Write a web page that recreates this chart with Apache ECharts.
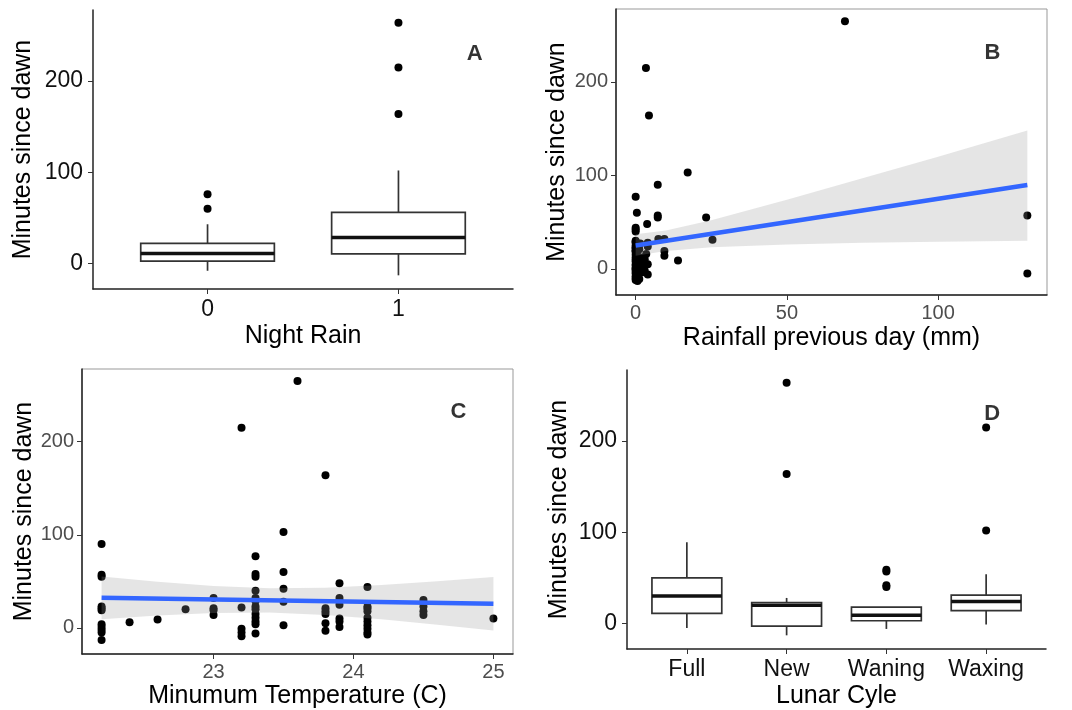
<!DOCTYPE html>
<html>
<head>
<meta charset="utf-8">
<script src="https://cdn.jsdelivr.net/npm/echarts@6.0.0/dist/echarts.min.js"></script>
<style>
  html, body { margin: 0; padding: 0; background: #fff; }
  #chart { width: 1072px; height: 710px; }
</style>
</head>
<body>
<div id="chart"></div>
<script>
// shared y ticks
const yTicks = [0, 100, 200];

// A: night rain, boxes are [low, q1, median, q3, high]
const nightRainCats = ['0', '1'];
const nightRainBoxes = [[-8, 2.5, 11, 22, 43], [-13, 10.5, 28.5, 56, 102]];
const nightRainOutliers = [[1, 76], [1, 60], [2, 264], [2, 215], [2, 164]];

// B: rainfall previous day (mm) vs minutes
const rainfallMm = [69.2, 3.4, 4.4, 17.2, 7.3, 0, 0.4, 23.3, 7.3, 7.3, 3.8, 0, 0, 0, 129.5, 129.5, 25.4, 14, 9.5, 9.5, 7.5, 9.5, 4, 4, 3.5,
  0, 0, 0, 0, 0, 0, 0, 0, 0, 0, 0, 0, 0, 0, 0, 0, 0, 0, 0, 0, 0, 0, 0,
  0.6, 0.6, 0.6, 0.6, 0.6, 0.6, 1.2, 1.2, 1.2, 1.5, 1.5, 2, 2, 2, 2, 3, 3, 3, 4, 4];
const rainMinutes = [265, 215, 164, 103, 90, 77, 60, 55, 57, 55, 48, 44, 42, 40, 57, -5, 31, 9, 19, 14, 32, 32, 28, 24, 16,
  30, 29, 28, 25, 23, 22, 20, 19, 18, 15, 12, 10, 8, 5, 3, 1, 0, -1, -3, -5, -8, -10, -12,
  26, 14, 6, -2, -6, -13, -11, 4, 21, 7, 27, 8, 2, -4, 12, 6, -2, 10, 5, -6];
const rainFitX = [0, 129.5];
const rainFitY = [25, 89.6];
const rainBandX = [0, 10, 25, 50, 75, 100, 129.5];
const rainBandLow = [14, 19, 23, 26, 28, 29, 30];
const rainBandHigh = [37, 41, 52, 74, 97, 120, 148];

// C: minimum temperature vs minutes
const tempValues = [22.2, 22.4, 22.6, 22.8, 23.0, 23.2, 23.3, 23.5, 23.6, 23.8, 23.9, 24.1, 24.5, 25.0];
const minutesByTemp = [
  [90, 57, 55, 23, 21, 19, 4, 1, -2, -5, -13],
  [6],
  [9],
  [20],
  [32, 21, 19, 14],
  [215, 22, -1, -5, -9],
  [77, 58, 55, 40, 32, 29, 23, 20, 15, 11, 7, 4, -6],
  [103, 60, 42, 28, 3],
  [265],
  [164, 21, 18, 15, 5, -3],
  [48, 32, 29, 25, 10, 7, 1],
  [44, 23, 21, 18, 11, 7, 3, -1, -5, -7],
  [30, 27, 23, 18, 14],
  [10]
];
const tempFitX = [22.2, 25.0];
const tempFitY = [32.3, 25.9];
const tempBandX = [22.2, 22.6, 23.0, 23.4, 23.8, 24.2, 24.6, 25.0];
const tempBandLow = [9.3, 13.3, 16.1, 16.6, 14.0, 9.4, 3.5, -2.8];
const tempBandHigh = [55.3, 49.5, 44.9, 42.6, 43.2, 46.0, 50.1, 54.6];

// D: lunar cycle
const lunarCats = ['Full', 'New', 'Waning', 'Waxing'];
const lunarBoxes = [[-5, 11, 30, 50, 89], [-13, -3, 20, 23, 28], [-6, 3, 9, 18, 18], [-1, 14, 24, 31, 54]];
const lunarOutliers = [[2, 264], [2, 164], [3, 59], [3, 57], [3, 42], [3, 40], [4, 215], [4, 102]];

// panel letters [x, y] in data units
const panelLetters = ['A', 'B', 'C', 'D'];
const panelLetterPos = [[2.4, 230], [118, 231], [24.75, 232], [4.06, 230]];

const FONT = '"Liberation Sans", Arial, sans-serif';
const BAND = 'rgba(153,153,153,0.25)';
const BLUE = '#3366FF';

const chart = echarts.init(document.getElementById('chart'));

function boxRender(params, api) {
  const x = api.value(0);
  const c = (k) => api.coord([x, api.value(k)]);
  const lo = c(1), q1 = c(2), md = c(3), q3 = c(4), hi = c(5);
  const w = api.size([0.7, 0])[0] / 2;
  const thin = { stroke: '#333', lineWidth: 1.7 };
  return {
    type: 'group',
    children: [
      { type: 'line', shape: { x1: lo[0], y1: lo[1], x2: q1[0], y2: q1[1] }, style: thin },
      { type: 'line', shape: { x1: q3[0], y1: q3[1], x2: hi[0], y2: hi[1] }, style: thin },
      { type: 'rect', shape: { x: q3[0] - w, y: q3[1], width: 2 * w, height: q1[1] - q3[1] },
        style: { fill: '#fff', stroke: '#333', lineWidth: 1.7 } },
      { type: 'line', shape: { x1: md[0] - w, y1: md[1], x2: md[0] + w, y2: md[1] },
        style: { stroke: '#111', lineWidth: 3.5 } }
    ]
  };
}

function bandRender(xs, lo, hi) {
  return function (params, api) {
    if (params.dataIndex !== 0) return null;
    const pts = [];
    xs.forEach((x, i) => pts.push(api.coord([x, hi[i]])));
    for (let i = xs.length - 1; i >= 0; i--) pts.push(api.coord([xs[i], lo[i]]));
    return { type: 'polygon', shape: { points: pts }, style: { fill: BAND } };
  };
}

function yAxis(gridIndex, boxed, nameGap) {
  return {
    type: 'value', gridIndex, min: -28, max: 278,
    name: 'Minutes since dawn', nameLocation: 'middle', nameGap,
    nameTextStyle: { fontSize: 25, color: '#000', fontFamily: FONT },
    axisLine: { show: true, onZero: false, lineStyle: { color: '#222', width: 1.5 } },
    axisTick: { show: true, length: 5, customValues: yTicks, lineStyle: { color: '#333' } },
    axisLabel: {
      customValues: yTicks, fontSize: boxed ? 20 : 23, margin: boxed ? 8 : 10,
      color: boxed ? '#4d4d4d' : '#111', fontFamily: FONT
    },
    splitLine: { show: false }
  };
}

function xAxis(gridIndex, boxed, opts) {
  return Object.assign({
    type: 'value', gridIndex, nameLocation: 'middle',
    nameTextStyle: { fontSize: 25, color: '#000', fontFamily: FONT },
    axisLine: { show: true, onZero: false, lineStyle: { color: '#222', width: 1.5 } },
    axisTick: { show: true, length: 5, customValues: opts.ticks, lineStyle: { color: '#333' } },
    axisLabel: {
      customValues: opts.ticks, fontSize: boxed ? 20 : 23, margin: boxed ? 8 : 9,
      color: boxed ? '#4d4d4d' : '#111', fontFamily: FONT, formatter: opts.formatter
    },
    splitLine: { show: false }
  }, { min: opts.min, max: opts.max, name: opts.name, nameGap: opts.nameGap });
}

const dot = { color: '#000', opacity: 1 };
const tempPoints = [];
tempValues.forEach((t, i) => minutesByTemp[i].forEach((m) => tempPoints.push([t, m])));

chart.setOption({
  animation: false,
  textStyle: { fontFamily: FONT },
  grid: [
    { left: 93, top: 10, width: 420, height: 279 },
    { left: 616, top: 9, width: 431, height: 286, show: true, borderColor: '#999', borderWidth: 1 },
    { left: 82, top: 369, width: 431, height: 286, show: true, borderColor: '#999', borderWidth: 1 },
    { left: 627, top: 370, width: 419, height: 279 }
  ],
  xAxis: [
    xAxis(0, false, { min: 0.4, max: 2.6, ticks: [1, 2], formatter: (v) => nightRainCats[v - 1],
      name: 'Night Rain', nameGap: 35 }),
    xAxis(1, true, { min: -6.5, max: 136, ticks: [0, 50, 100], name: 'Rainfall previous day (mm)', nameGap: 31 }),
    xAxis(2, true, { min: 22.06, max: 25.14, ticks: [23, 24, 25], name: 'Minumum Temperature (C)', nameGap: 30 }),
    xAxis(3, false, { min: 0.4, max: 4.6, ticks: [1, 2, 3, 4], formatter: (v) => lunarCats[v - 1],
      name: 'Lunar Cyle', nameGap: 35 })
  ],
  yAxis: [yAxis(0, false, 57), yAxis(1, true, 46), yAxis(2, true, 45), yAxis(3, false, 55)],
  series: [
    // A
    { type: 'custom', xAxisIndex: 0, yAxisIndex: 0, renderItem: boxRender,
      encode: { x: 0, y: [1, 2, 3, 4, 5] }, data: nightRainBoxes.map((b, i) => [i + 1].concat(b)) },
    { type: 'scatter', xAxisIndex: 0, yAxisIndex: 0, symbolSize: 8, itemStyle: dot, data: nightRainOutliers },
    // B
    { type: 'scatter', xAxisIndex: 1, yAxisIndex: 1, symbolSize: 8, itemStyle: dot, z: 2,
      data: rainfallMm.map((x, i) => [x, rainMinutes[i]]) },
    { type: 'custom', xAxisIndex: 1, yAxisIndex: 1, z: 3,
      renderItem: bandRender(rainBandX, rainBandLow, rainBandHigh),
      encode: { x: 0, y: [1, 2] }, data: rainBandX.map((x, i) => [x, rainBandLow[i], rainBandHigh[i]]) },
    { type: 'line', xAxisIndex: 1, yAxisIndex: 1, z: 4, showSymbol: false,
      lineStyle: { color: BLUE, width: 4.5 }, data: rainFitX.map((x, i) => [x, rainFitY[i]]) },
    // C
    { type: 'scatter', xAxisIndex: 2, yAxisIndex: 2, symbolSize: 8, itemStyle: dot, z: 2, data: tempPoints },
    { type: 'custom', xAxisIndex: 2, yAxisIndex: 2, z: 3,
      renderItem: bandRender(tempBandX, tempBandLow, tempBandHigh),
      encode: { x: 0, y: [1, 2] }, data: tempBandX.map((x, i) => [x, tempBandLow[i], tempBandHigh[i]]) },
    { type: 'line', xAxisIndex: 2, yAxisIndex: 2, z: 4, showSymbol: false,
      lineStyle: { color: BLUE, width: 4.5 }, data: tempFitX.map((x, i) => [x, tempFitY[i]]) },
    // D
    { type: 'custom', xAxisIndex: 3, yAxisIndex: 3, renderItem: boxRender,
      encode: { x: 0, y: [1, 2, 3, 4, 5] }, data: lunarBoxes.map((b, i) => [i + 1].concat(b)) },
    { type: 'scatter', xAxisIndex: 3, yAxisIndex: 3, symbolSize: 8, itemStyle: dot, data: lunarOutliers },
    // panel letters
    ...panelLetters.map((letter, i) => ({
      type: 'scatter', xAxisIndex: i, yAxisIndex: i, symbolSize: 1, z: 5,
      itemStyle: { color: 'rgba(0,0,0,0)' },
      label: { show: true, position: 'inside', formatter: letter, fontSize: 22, fontWeight: 'bold',
        color: '#000', fontFamily: FONT },
      data: [panelLetterPos[i]]
    }))
  ]
});
</script>
</body>
</html>
